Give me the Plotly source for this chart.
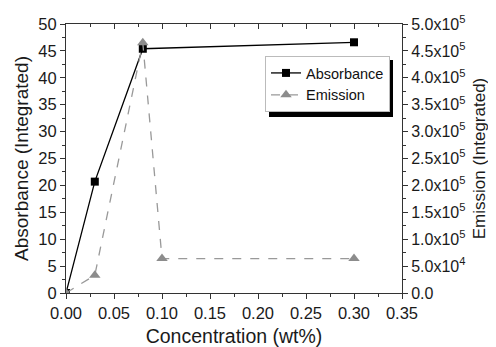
import plotly.graph_objects as go

conc_abs = [0.0, 0.03, 0.08, 0.30]
absorbance = [0.0, 20.7, 45.4, 46.6]
conc_em = [0.0, 0.03, 0.08, 0.10, 0.30]
emission = [0.0, 3.3e4, 4.65e5, 6.4e4, 6.4e4]

x_ticks = [0, 0.05, 0.10, 0.15, 0.20, 0.25, 0.30, 0.35]
y2_vals = [i * 5e4 for i in range(11)]
y2_text = ["0.0"] + [f"{(v/10**(5 if v >= 1e5 else 4)):.1f}x10<sup>{5 if v >= 1e5 else 4}</sup>" for v in y2_vals[1:]]

FONT = "Liberation Sans, Arial, sans-serif"
AX = "#333333"
TXT = "#1a1a1a"

# page body has an 8px margin: figure is offset by (8, 8)
OFF = 8
W, H = 496 - OFF, 347 - OFF
L, R, T, B = 66 - OFF, 94, 24 - OFF, 54
PW, PH = W - L - R, H - T - B


def px_x(px):
    return (px - (L + OFF)) / PW


def px_y(py):
    return ((T + OFF + PH) - py) / PH


fig = go.Figure()
fig.add_trace(go.Scatter(x=conc_abs, y=absorbance, name="Absorbance", mode="lines+markers",
                         line=dict(color="black", width=1.3),
                         marker=dict(symbol="square", size=8, color="black"), yaxis="y"))
fig.add_trace(go.Scatter(x=conc_em, y=emission, name="Emission", mode="lines+markers",
                         line=dict(color="#999999", width=1.3, dash="dash"),
                         marker=dict(symbol="triangle-up", size=10, color="#8c8c8c"), yaxis="y2"))
fig.add_trace(go.Scatter(x=[0], y=[0], xaxis="x2", yaxis="y", showlegend=False,
                         mode="markers", marker=dict(opacity=0), hoverinfo="skip"))

fig.update_layout(
    width=W, height=H,
    margin=dict(l=L, r=R, t=T, b=B, autoexpand=False),
    paper_bgcolor="white", plot_bgcolor="white",
    font=dict(family=FONT, color=TXT, size=15),
    xaxis=dict(range=[0, 0.35], tickvals=x_ticks, tickformat=".2f", automargin=False,
               ticks="outside", ticklen=5, tickcolor=AX, showline=True, linecolor=AX, linewidth=1,
               showgrid=False, zeroline=False, tickfont=dict(size=16.5, color=TXT),
               minor=dict(ticks="outside", ticklen=3, tickcolor=AX, dtick=0.025),
               title=dict(text="Concentration (wt%)", font=dict(size=19.5), standoff=12)),
    xaxis2=dict(range=[0, 0.35], overlaying="x", side="top", anchor="y", tickvals=x_ticks,
                ticks="inside", ticklen=5, tickcolor=AX, showline=True, linecolor=AX, linewidth=1,
                showticklabels=False, showgrid=False, zeroline=False, automargin=False,
                minor=dict(ticks="inside", ticklen=3, tickcolor=AX, dtick=0.025)),
    yaxis=dict(range=[0, 50], dtick=5, ticks="outside", ticklen=5, tickcolor=AX, automargin=False,
               showline=True, linecolor=AX, linewidth=1, showgrid=False, zeroline=False,
               tickfont=dict(size=16.5, color=TXT),
               minor=dict(ticks="outside", ticklen=3, tickcolor=AX, dtick=2.5),
               title=dict(text="Absorbance (Integrated)", font=dict(size=19), standoff=4)),
    yaxis2=dict(range=[0, 5e5], overlaying="y", side="right", anchor="x", automargin=False,
                tickvals=y2_vals, ticktext=y2_text, ticks="outside", ticklen=5, tickcolor=AX,
                showline=True, linecolor=AX, linewidth=1, showgrid=False, zeroline=False,
                tickfont=dict(size=16, color=TXT),
                minor=dict(ticks="outside", ticklen=3, tickcolor=AX, dtick=2.5e4),
                title=dict(text="Emission (Integrated)", font=dict(size=17), standoff=8)),
    legend=dict(x=px_x(265), y=px_y(56), xanchor="left", yanchor="top", bgcolor="white",
                bordercolor="#bbbbbb", borderwidth=1, font=dict(size=14.5, color="#111"),
                tracegroupgap=0, itemwidth=30),
    shapes=[dict(type="rect", xref="paper", yref="paper", x0=px_x(269), x1=px_x(393),
                 y0=px_y(117), y1=px_y(60),
                 fillcolor="black", line=dict(width=0), layer="above")],
)

fig.write_html("out.html")
